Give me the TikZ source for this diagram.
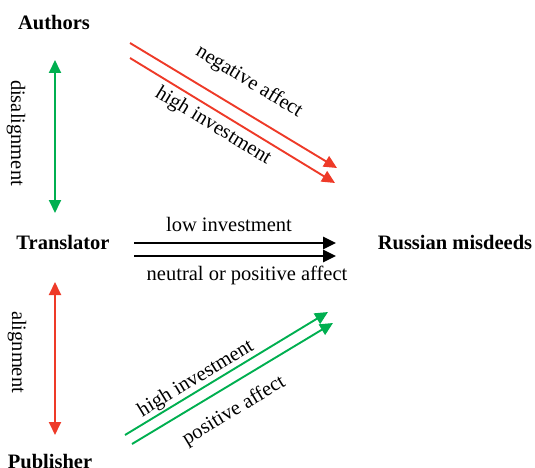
\documentclass[tikz,border=0pt]{standalone}
\usepackage{fontspec}
\setmainfont{Liberation Serif}
\usetikzlibrary{arrows.meta}
\definecolor{myred}{RGB}{238,58,40}
\definecolor{mygreen}{RGB}{0,175,80}
\begin{document}
\begin{tikzpicture}[x=1pt,y=-1pt,
  every node/.style={font=\fontsize{20.5}{24}\selectfont, inner sep=0pt},
  actor/.style={font=\fontsize{20.5}{24}\selectfont\bfseries, anchor=base},
  lbl/.style={anchor=base},
  tip/.style={-{Triangle[length=13pt,width=12pt]}},
  redarr/.style={myred, line width=1.9pt, tip},
  greenarr/.style={mygreen, line width=1.9pt, tip},
  blackarr/.style={black, line width=2.8pt, -{Triangle[length=13pt,width=12pt]}},
  dbl/.style={line width=1.9pt, {Triangle[length=13pt,width=12pt]}-{Triangle[length=13pt,width=12pt]}}
]
\useasboundingbox (0,0) rectangle (535,468);
% actors
\node[actor] (au) at (54,30) {Authors};
\node[actor] (tr) at (63,249) {Translator};
\node[actor] (ru) at (455,249) {Russian misdeeds};
\node[actor] (pu) at (50,468) {Publisher};
% vertical double arrows
\coordinate (g1) at (55,60);
\coordinate (g2) at (55,213);
\draw[dbl, mygreen] (g1) -- (g2);
\node[rotate=-90] (dis) at (16,133) {disalignment};
\coordinate (r1) at (55,282);
\coordinate (r2) at (55,435);
\draw[dbl, myred] (r1) -- (r2);
\node[rotate=-90] (ali) at (17,352) {alignment};
% red arrows
\coordinate (ra1) at (130,43);
\coordinate (ra2) at (337,168);
\coordinate (rb1) at (130,58);
\coordinate (rb2) at (335,183);
\draw[redarr] (ra1) -- (ra2);
\draw[redarr] (rb1) -- (rb2);
\node[rotate=-31.3] (na) at (249,82) {negative affect};
\node[rotate=-31.3] (hi1) at (213,126) {high investment};
% black arrows
\coordinate (ba1) at (134,243);
\coordinate (ba2) at (336,243);
\coordinate (bb1) at (134,256);
\coordinate (bb2) at (336,256);
\draw[blackarr] (ba1) -- (ba2);
\draw[blackarr] (bb1) -- (bb2);
\node[lbl] (lo) at (229,231) {low investment};
\node[lbl] (ne) at (247,280) {neutral or positive affect};
% green arrows
\coordinate (ga1) at (125,435);
\coordinate (ga2) at (328,312);
\coordinate (gb1) at (132,444);
\coordinate (gb2) at (333,323);
\draw[greenarr] (ga1) -- (ga2);
\draw[greenarr] (gb1) -- (gb2);
\node[rotate=31.2] (hi2) at (196,379) {high investment};
\node[rotate=31.2] (pa) at (234,411) {positive affect};
\end{tikzpicture}
\end{document}
